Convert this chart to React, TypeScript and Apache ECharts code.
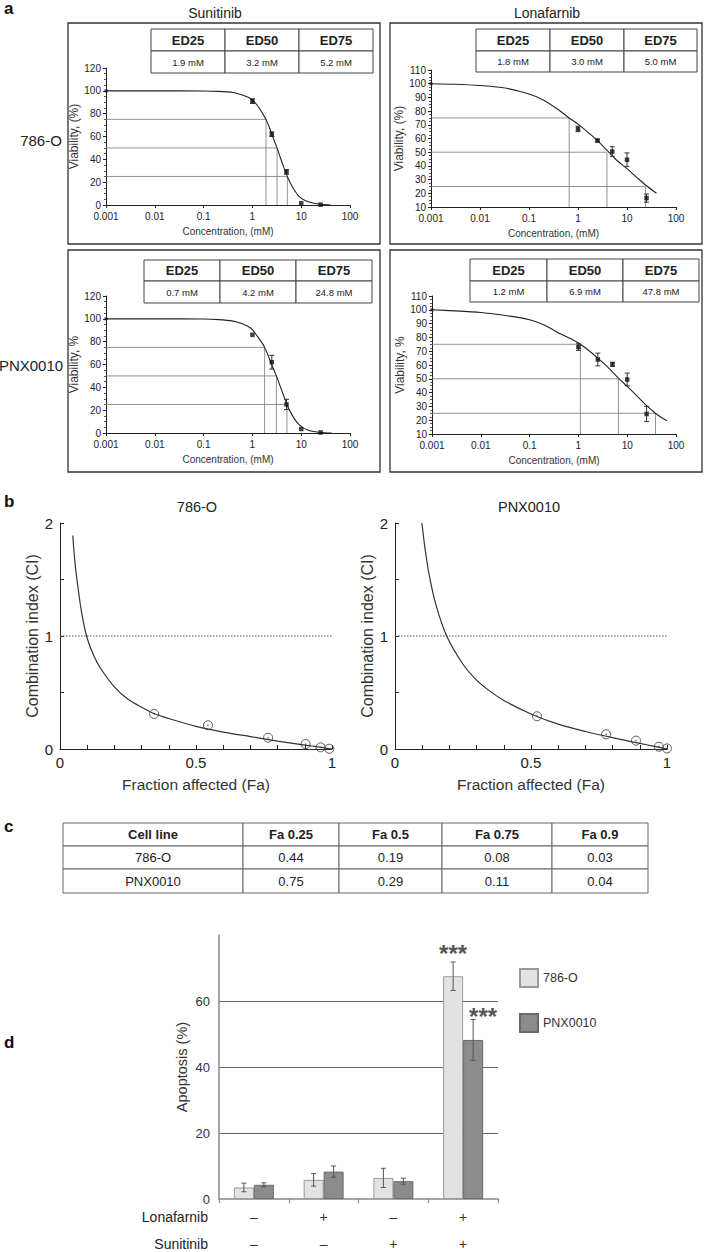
import React, { useEffect, useRef } from 'react';
import * as echarts from 'echarts';

const FONT = '"Liberation Sans", Arial, Helvetica, sans-serif';

// ---------- Panel a data ----------
const xTickLabels = ['0.001', '0.01', '0.1', '1', '10', '100'];
const drugTitles = ['Sunitinib', 'Lonafarnib'];
const cellLines = ['786-O', 'PNX0010'];
const yNamesA = ['Viability, (%)', 'Viability, (%)', 'Viability, %', 'Viability, %'];
const xNameA = 'Concentration, (mM)';
const edHeaders = ['ED25', 'ED50', 'ED75'];
const edSun786 = ['1.9 mM', '3.2 mM', '5.2 mM'];
const edLon786 = ['1.8 mM', '3.0 mM', '5.0 mM'];
const edSunPNX = ['0.7 mM', '4.2 mM', '24.8 mM'];
const edLonPNX = ['1.2 mM', '6.9 mM', '47.8 mM'];

const curveSun786 = [[0.001, 100], [0.01, 100], [0.1, 99.9], [0.2, 99.5], [0.4, 98.5], [0.6, 96.5], [0.8, 94.5], [1, 92], [1.3, 86.5], [1.6, 80.5], [1.9, 75], [2.2, 68.5], [2.6, 60], [3.2, 50], [3.7, 42], [4.4, 33], [5.2, 25], [6.2, 18], [7.5, 12], [9, 7.5], [11, 4.8], [14, 2.8], [18, 1.5], [25, 0.6], [40, 0]];
const pointsSun786 = [[0.001, 100, 0], [1, 91, 2], [2.5, 62, 2], [5, 29, 2], [10, 1.5, 0], [25, 0.3, 0]];
const refSun786 = [[1.9, 75], [3.2, 50], [5.2, 25]];

const curveLon786 = [[0.001, 100], [0.003, 99.6], [0.01, 98.7], [0.03, 97], [0.1, 92.5], [0.2, 88], [0.4, 81], [0.66, 75], [1, 70.5], [1.6, 64.5], [2.5, 58.5], [4, 51], [6, 44.5], [10, 38], [16, 31.5], [25, 25.5], [40, 20]];
const pointsLon786 = [[0.001, 100, 0], [1, 67, 2], [2.5, 58.5, 1], [5, 50.5, 3.5], [10, 44.5, 5], [25, 16.5, 3]];
const refLon786 = [[0.66, 75], [3.9, 50], [24, 25]];

const curveSunPNX = [[0.001, 100], [0.01, 100], [0.1, 99.8], [0.2, 99.3], [0.4, 98], [0.6, 96], [0.8, 93.5], [1, 90.5], [1.3, 84], [1.6, 78.5], [1.78, 75], [2.1, 68], [2.5, 59.5], [3.1, 50], [3.6, 42.5], [4.3, 33.5], [5.1, 25], [6, 18.5], [7.5, 11.5], [9, 7.5], [11, 4.5], [14, 2.5], [18, 1.3], [25, 0.5], [42, 0]];
const pointsSunPNX = [[0.001, 100, 0], [1, 86, 0], [2.5, 62, 6], [5, 25, 4.5], [10, 3.5, 0], [25, 0.5, 0]];
const refSunPNX = [[1.78, 75], [3.1, 50], [5.1, 25]];

const curveLonPNX = [[0.001, 100], [0.003, 99.2], [0.01, 98], [0.03, 96], [0.1, 92.8], [0.2, 89], [0.4, 83], [0.7, 79], [1.1, 75], [1.7, 70], [2.5, 65], [4, 58.5], [6.6, 50.5], [10, 44.5], [16, 37.5], [25, 30.5], [38, 25], [50, 22], [66, 19.5]];
const pointsLonPNX = [[0.001, 100, 0], [1, 73, 2.4], [2.5, 64, 4.6], [5, 60.5, 1.5], [10, 49.5, 4.6], [25, 24.5, 5.5]];
const refLonPNX = [[1.1, 75], [6.6, 50], [38, 25]];

// ---------- Panel b data ----------
const ciTitles = ['786-O', 'PNX0010'];
const ciXLabels: Record<string, string> = { '0': '0', '0.5': '0.5', '1': '1' };
const ciYLabels: Record<string, string> = { '0': '0', '1': '1', '2': '2' };
const ciThreshold = [[0, 1], [1, 1]];
const ciCurve786 = [[0.047, 1.89], [0.055, 1.65], [0.065, 1.45], [0.08, 1.2], [0.1, 0.98], [0.125, 0.82], [0.15, 0.71], [0.2, 0.55], [0.25, 0.44], [0.3, 0.37], [0.35, 0.31], [0.4, 0.27], [0.5, 0.2], [0.6, 0.15], [0.7, 0.11], [0.8, 0.07], [0.9, 0.035], [0.95, 0.018], [1, 0]];
const ciPoints786 = [[0.346, 0.31], [0.544, 0.21], [0.765, 0.1], [0.903, 0.044], [0.958, 0.015], [0.99, 0.002]];
const ciCurvePNX = [[0.099, 2.0], [0.11, 1.78], [0.125, 1.55], [0.15, 1.28], [0.19, 1.0], [0.25, 0.75], [0.3, 0.61], [0.35, 0.51], [0.4, 0.43], [0.5, 0.31], [0.6, 0.22], [0.7, 0.155], [0.8, 0.1], [0.9, 0.05], [0.95, 0.025], [1, 0]];
const ciPointsPNX = [[0.522, 0.29], [0.776, 0.13], [0.886, 0.074], [0.97, 0.02], [1.0, 0.005]];

// ---------- Panel c data ----------
const tableHeader = ['Cell line', 'Fa 0.25', 'Fa 0.5', 'Fa 0.75', 'Fa 0.9'];
const tableRow786 = ['786-O', '0.44', '0.19', '0.08', '0.03'];
const tableRowPNX = ['PNX0010', '0.75', '0.29', '0.11', '0.04'];

// ---------- Panel d data ----------
const treatLonafarnib = ['\u2013', '+', '\u2013', '+'];
const treatSunitinib = ['\u2013', '\u2013', '+', '+'];
const treatNames = ['Lonafarnib', 'Sunitinib'];
const apop786 = [3.5, 5.8, 6.4, 67.5];
const apop786Err = [1.3, 1.9, 2.9, 4.3];
const apopPNX = [4.3, 8.3, 5.4, 48.2];
const apopPNXErr = [0.6, 1.7, 0.9, 6.2];
const sig786 = ['', '', '', '***'];
const sigPNX = ['', '', '', '***'];
const apopYName = 'Apoptosis (%)';

// ---------- helpers ----------
function textEl(x: number, y: number, text: string, size: number, opts: any = {}) {
  const weight = opts.weight || 'normal';
  return {
    type: 'text',
    x,
    y,
    silent: true,
    z: 20,
    style: {
      text,
      fill: opts.color || '#222',
      font: `${weight} ${size}px ${FONT}`,
      textAlign: opts.align || 'center',
      textVerticalAlign: opts.valign || 'middle',
      align: opts.align || 'center',
      verticalAlign: opts.valign || 'middle',
    },
  };
}

function tableEls(x0: number, y0: number, colW: number[], rowH: number[], rows: string[][], fontSizes: number[], weights: string[], stroke = '#444') {
  const els: any[] = [];
  let y = y0;
  rows.forEach((row, r) => {
    let x = x0;
    row.forEach((cell, c) => {
      els.push({
        type: 'rect',
        silent: true,
        z: 15,
        shape: { x, y, width: colW[c], height: rowH[r] },
        style: { fill: '#fff', stroke, lineWidth: 1 },
      });
      els.push(textEl(x + colW[c] / 2, y + rowH[r] / 2, cell, fontSizes[r], { weight: weights[r] }));
      x += colW[c];
    });
    y += rowH[r];
  });
  return els;
}

function errRender(offset: number, cap: number, color: string) {
  return (params: any, api: any) => {
    const x = api.value(0);
    const y = api.value(1);
    const e = api.value(2);
    if (!e) return null;
    const top = api.coord([x, y + e]);
    const bot = api.coord([x, y - e]);
    const cx = top[0] + offset;
    const style = { stroke: color, lineWidth: 1, fill: 'none' };
    return {
      type: 'group',
      children: [
        { type: 'line', shape: { x1: cx, y1: top[1], x2: cx, y2: bot[1] }, style },
        { type: 'line', shape: { x1: cx - cap, y1: top[1], x2: cx + cap, y2: top[1] }, style },
        { type: 'line', shape: { x1: cx - cap, y1: bot[1], x2: cx + cap, y2: bot[1] }, style },
      ],
    };
  };
}

function buildOption() {
  const panelsA = [
    { grid: { left: 106, top: 68, width: 244, height: 137 }, curve: curveSun786, points: pointsSun786, refs: refSun786, yMin: 0, yMax: 120, yInt: 20 },
    { grid: { left: 431, top: 70, width: 245, height: 137 }, curve: curveLon786, points: pointsLon786, refs: refLon786, yMin: 10, yMax: 110, yInt: 10 },
    { grid: { left: 106, top: 296, width: 244, height: 137 }, curve: curveSunPNX, points: pointsSunPNX, refs: refSunPNX, yMin: 0, yMax: 120, yInt: 20 },
    { grid: { left: 432, top: 296, width: 244, height: 138 }, curve: curveLonPNX, points: pointsLonPNX, refs: refLonPNX, yMin: 10, yMax: 110, yInt: 10 },
  ];
  const grids: any[] = [];
  const xAxes: any[] = [];
  const yAxes: any[] = [];
  const series: any[] = [];

  panelsA.forEach((p, i) => {
    grids.push({ ...p.grid, containLabel: false, outerBoundsMode: 'none' });
    xAxes.push({
      type: 'log', gridIndex: i, min: 0.001, max: 100, logBase: 10, splitNumber: 5,
      name: xNameA, nameLocation: 'middle', nameGap: 21,
      nameTextStyle: { fontSize: 10, color: '#333', fontFamily: FONT },
      axisLine: { show: true, onZero: false, lineStyle: { color: '#222', width: 1 } },
      axisTick: { show: true, length: 3, lineStyle: { color: '#222' } },
      axisLabel: { fontSize: 10, color: '#222', margin: 6, fontFamily: FONT, formatter: (v: number) => xTickLabels[Math.round(Math.log10(v)) + 3] ?? '' },
      splitLine: { show: false },
    });
    yAxes.push({
      type: 'value', gridIndex: i, min: p.yMin, max: p.yMax, interval: p.yInt,
      name: yNamesA[i], nameLocation: 'middle', nameGap: 22,
      nameTextStyle: { fontSize: 12, color: '#333', fontFamily: FONT },
      axisLine: { show: true, onZero: false, lineStyle: { color: '#222', width: 1 } },
      axisTick: { show: true, length: 3, lineStyle: { color: '#222' } },
      minorTick: { show: true, splitNumber: 4, length: 2, lineStyle: { color: '#555' } },
      axisLabel: { fontSize: 10, color: '#222', margin: 5, fontFamily: FONT },
      splitLine: { show: false },
    });
    p.refs.forEach((r) => {
      series.push({
        type: 'line', xAxisIndex: i, yAxisIndex: i, symbol: 'none', silent: true, z: 1,
        data: [[0.001, r[1]], [r[0], r[1]], [r[0], p.yMin]],
        lineStyle: { color: '#777', width: 0.8 },
      });
    });
    series.push({
      type: 'line', xAxisIndex: i, yAxisIndex: i, symbol: 'none', silent: true, z: 3,
      smooth: 0.25,
      data: p.curve, lineStyle: { color: '#222', width: 1.1 },
    });
    series.push({
      type: 'custom', xAxisIndex: i, yAxisIndex: i, silent: true, z: 4,
      renderItem: errRender(0, 2.5, '#333'), encode: { x: 0, y: 1 },
      data: p.points,
    });
    series.push({
      type: 'scatter', xAxisIndex: i, yAxisIndex: i, silent: true, z: 5,
      symbol: 'rect', symbolSize: (v: number[]) => (v[0] <= 0.001 ? 3 : 4.5),
      itemStyle: { color: '#111' },
      data: p.points.map((d) => [d[0], d[1]]),
    });
  });

  // Panel b
  const bGrids = [
    { left: 60, top: 523, width: 272, height: 226 },
    { left: 395, top: 523, width: 272, height: 226 },
  ];
  const bCurves = [ciCurve786, ciCurvePNX];
  const bPoints = [ciPoints786, ciPointsPNX];
  bGrids.forEach((g, k) => {
    const gi = 4 + k;
    grids.push({ ...g, containLabel: false, outerBoundsMode: 'none' });
    xAxes.push({
      type: 'value', gridIndex: gi, min: 0, max: 1, interval: 0.1,
      name: 'Fraction affected (Fa)', nameLocation: 'middle', nameGap: 27,
      nameTextStyle: { fontSize: 15.5, color: '#333', fontFamily: FONT },
      axisLine: { show: true, onZero: false, lineStyle: { color: '#222', width: 1 } },
      axisTick: { show: true, inside: true, length: 4, lineStyle: { color: '#222' } },
      axisLabel: { fontSize: 15, color: '#222', margin: 6, fontFamily: FONT, formatter: (v: number) => ciXLabels[String(Math.round(v * 10) / 10)] ?? '' },
      splitLine: { show: false },
    });
    yAxes.push({
      type: 'value', gridIndex: gi, min: 0, max: 2, interval: 0.5,
      name: 'Combination index (CI)', nameLocation: 'middle', nameGap: 17,
      nameTextStyle: { fontSize: 16, color: '#333', fontFamily: FONT },
      axisLine: { show: true, onZero: false, lineStyle: { color: '#222', width: 1 } },
      axisTick: { show: true, inside: true, length: 4, lineStyle: { color: '#222' } },
      axisLabel: { fontSize: 15, color: '#222', margin: 7, fontFamily: FONT, formatter: (v: number) => ciYLabels[String(v)] ?? '' },
      splitLine: { show: false },
    });
    series.push({
      type: 'line', xAxisIndex: gi, yAxisIndex: gi, symbol: 'none', silent: true, z: 1,
      data: ciThreshold, lineStyle: { color: '#555', width: 1, type: [1.5, 1.5] },
    });
    series.push({
      type: 'line', xAxisIndex: gi, yAxisIndex: gi, symbol: 'none', silent: true, z: 3,
      smooth: 0.3,
      data: bCurves[k], lineStyle: { color: '#333', width: 1.2 },
    });
    series.push({
      type: 'scatter', xAxisIndex: gi, yAxisIndex: gi, silent: true, z: 5,
      symbol: 'circle', symbolSize: 9,
      itemStyle: { color: 'rgba(255,255,255,0)', borderColor: '#333', borderWidth: 1 },
      data: bPoints[k],
    });
    series.push({
      type: 'scatter', xAxisIndex: gi, yAxisIndex: gi, silent: true, z: 6,
      symbol: 'circle', symbolSize: 1.5,
      itemStyle: { color: '#333' },
      data: bPoints[k],
    });
  });

  // Panel d
  const categories = treatLonafarnib.map((l, i) => `${l}\n${treatSunitinib[i]}`);
  grids.push({ left: 219, top: 935, width: 279, height: 264, containLabel: false, outerBoundsMode: 'none' });
  xAxes.push({
    type: 'category', gridIndex: 6, data: categories,
    axisLine: { show: true, onZero: false, lineStyle: { color: '#888', width: 1.5 } },
    axisTick: { show: true, alignWithLabel: false, length: 4, lineStyle: { color: '#888', width: 1.2 } },
    axisLabel: { fontSize: 14, color: '#333', margin: 4, lineHeight: 27, fontFamily: FONT, interval: 0 },
    splitLine: { show: false },
  });
  yAxes.push({
    type: 'value', gridIndex: 6, min: 0, max: 80, interval: 20,
    name: apopYName, nameLocation: 'middle', nameGap: 30,
    nameTextStyle: { fontSize: 14.5, color: '#333', fontFamily: FONT },
    axisLine: { show: true, onZero: false, lineStyle: { color: '#888', width: 1.5 } },
    axisTick: { show: false },
    axisLabel: { fontSize: 13, color: '#333', margin: 9, fontFamily: FONT, showMaxLabel: false, formatter: (v: number) => (v === 80 ? '' : String(v)) },
    splitLine: { show: true, showMinLine: false, showMaxLine: false, lineStyle: { color: '#666', width: 1 } },
  });
  series.push({
    type: 'bar', name: cellLines[0], xAxisIndex: 6, yAxisIndex: 6, barWidth: 20, barGap: '0%', z: 2,
    data: apop786, itemStyle: { color: '#e2e2e2', borderColor: '#9a9a9a', borderWidth: 1 },
    label: { show: true, position: 'top', distance: 11, formatter: (p: any) => sig786[p.dataIndex], fontSize: 24, fontWeight: 'bold', color: '#555', fontFamily: FONT },
  });
  series.push({
    type: 'bar', name: cellLines[1], xAxisIndex: 6, yAxisIndex: 6, barWidth: 20, barGap: '0%', z: 2,
    data: apopPNX, itemStyle: { color: '#8c8c8c', borderColor: '#6a6a6a', borderWidth: 1 },
    label: { show: true, position: 'top', distance: 11, offset: [10, 0], formatter: (p: any) => sigPNX[p.dataIndex], fontSize: 24, fontWeight: 'bold', color: '#555', fontFamily: FONT },
  });
  series.push({
    type: 'custom', xAxisIndex: 6, yAxisIndex: 6, silent: true, z: 5,
    renderItem: errRender(-10, 2.5, '#555'), encode: { x: 0, y: 1 },
    data: apop786.map((v, i) => [i, v, apop786Err[i]]),
  });
  series.push({
    type: 'custom', xAxisIndex: 6, yAxisIndex: 6, silent: true, z: 5,
    renderItem: errRender(10, 2.5, '#555'), encode: { x: 0, y: 1 },
    data: apopPNX.map((v, i) => [i, v, apopPNXErr[i]]),
  });

  // Graphics: boxes, tables, titles, labels
  const g: any[] = [];
  const boxes = [
    { x: 68, y: 23, w: 312, h: 221 },
    { x: 390, y: 23, w: 312, h: 221 },
    { x: 68, y: 250, w: 312, h: 222 },
    { x: 390, y: 250, w: 312, h: 222 },
  ];
  boxes.forEach((b) => {
    g.push({ type: 'rect', silent: true, z: 0, shape: { x: b.x, y: b.y, width: b.w, height: b.h }, style: { fill: 'none', stroke: '#333', lineWidth: 1.3 } });
  });
  g.push(...tableEls(151, 29, [74, 74, 74], [22, 22], [edHeaders, edSun786], [13, 9.5], ['bold', 'normal']));
  g.push(...tableEls(476, 29, [74, 74, 73], [22, 21], [edHeaders, edLon786], [13, 9.5], ['bold', 'normal']));
  g.push(...tableEls(144, 260, [76, 76, 76], [21, 22], [edHeaders, edSunPNX], [13, 9.5], ['bold', 'normal']));
  g.push(...tableEls(470, 259, [77, 76, 76], [22, 21], [edHeaders, edLonPNX], [13, 9.5], ['bold', 'normal']));
  g.push(...tableEls(63, 823, [180, 96, 103, 110, 96], [23, 23, 24], [tableHeader, tableRow786, tableRowPNX], [13, 13, 13], ['bold', 'normal', 'normal'], '#666'));

  g.push(textEl(215, 13, drugTitles[0], 14));
  g.push(textEl(547, 13, drugTitles[1], 14));
  g.push(textEl(41, 140, cellLines[0], 15));
  g.push(textEl(31, 365, cellLines[1], 15));
  g.push(textEl(197, 507, ciTitles[0], 14.5));
  g.push(textEl(529, 507, ciTitles[1], 14.5));
  g.push(textEl(208, 1217, treatNames[0], 14, { align: 'right' }));
  g.push(textEl(208, 1244, treatNames[1], 14, { align: 'right' }));

  g.push(textEl(4, 8.5, 'a', 17, { weight: 'bold', align: 'left', color: '#111' }));
  g.push(textEl(4, 501, 'b', 17, { weight: 'bold', align: 'left', color: '#111' }));
  g.push(textEl(4, 826, 'c', 17, { weight: 'bold', align: 'left', color: '#111' }));
  g.push(textEl(4, 1042, 'd', 17, { weight: 'bold', align: 'left', color: '#111' }));

  return {
    animation: false,
    backgroundColor: '#ffffff',
    textStyle: { fontFamily: FONT },
    grid: grids,
    xAxis: xAxes,
    yAxis: yAxes,
    legend: {
      data: cellLines, orient: 'vertical', left: 519, top: 968, padding: 0,
      itemWidth: 18, itemHeight: 18, itemGap: 25, icon: 'rect',
      textStyle: { fontSize: 12.5, color: '#333', fontFamily: FONT },
      selectedMode: false,
    },
    graphic: { elements: g },
    series,
  };
}

export default function App() {
  const ref = useRef<HTMLDivElement>(null);
  useEffect(() => {
    document.body.style.margin = '0';
    const chart = echarts.init(ref.current!, undefined, { renderer: 'svg' });
    chart.setOption(buildOption() as any);
    return () => chart.dispose();
  }, []);
  return <div ref={ref} style={{ width: 708, height: 1252 }} />;
}
